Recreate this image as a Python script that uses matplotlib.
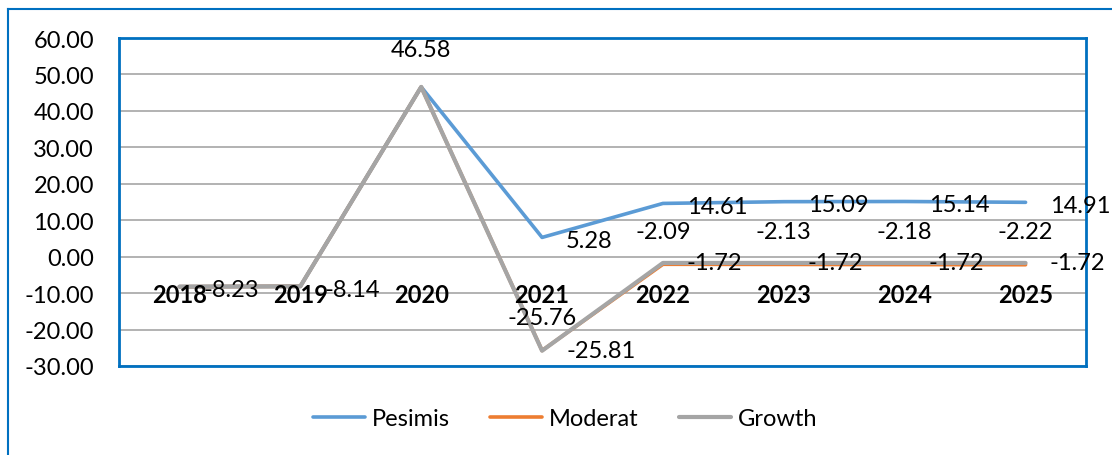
import matplotlib.pyplot as plt
from matplotlib.lines import Line2D
from matplotlib.transforms import offset_copy

plt.rcParams['font.family'] = ['Lato', 'DejaVu Sans']

years = ['2018', '2019', '2020', '2021', '2022', '2023', '2024', '2025']
pesimis = [-8.23, -8.14, 46.58, 5.28, 14.61, 15.09, 15.14, 14.91]
moderat = [-8.23, -8.14, 46.58, -25.76, -2.09, -2.13, -2.18, -2.22]
growth = [-8.23, -8.14, 46.58, -25.81, -1.72, -1.72, -1.72, -1.72]

blue = '#5B9BD5'
orange = '#ED7D31'
gray = '#A5A5A5'
frame = '#0070C0'
ft = 17

fig = plt.figure(figsize=(11.12, 4.56), dpi=100)
W, H = 1112, 456
ax = fig.add_axes([119 / W, 1 - 367 / H, (1086 - 119) / W, (367 - 39) / H])

x = list(range(len(years)))
ax.plot(x, pesimis, color=blue, lw=2.6, label='Pesimis', solid_capstyle='round', zorder=3)
ax.plot(x, moderat, color=orange, lw=2.6, label='Moderat', solid_capstyle='round', zorder=3)
ax.plot(x, growth, color=gray, lw=3.0, label='Growth', solid_capstyle='round', zorder=4)

ax.set_xlim(-0.5, len(years) - 0.5)
ax.set_ylim(-30, 60)
ax.set_yticks(range(-30, 61, 10))
ax.set_yticklabels(['%.2f' % v for v in range(-30, 61, 10)], fontsize=ft)
ax.tick_params(axis='y', length=0, pad=18)
ax.set_xticks([])
ax.grid(axis='y', color='#A6A6A6', lw=1.2, zorder=1)
for s in ax.spines.values():
    s.set_color(frame)
    s.set_linewidth(2)

# category labels next to the zero line
for i, yr in enumerate(years):
    t = offset_copy(ax.transData, fig=fig, x=0, y=-26, units='dots')
    ax.text(i, 0, yr, transform=t, ha='center', va='top', fontsize=ft, fontweight='bold', zorder=5)

# data labels
def lab(i, v, dx, dy, ha='left', va='center'):
    t = offset_copy(ax.transData, fig=fig, x=dx, y=dy, units='dots')
    ax.text(i, v, '%.2f' % v, transform=t, ha=ha, va=va, fontsize=ft, zorder=6)

for i, v in enumerate(pesimis):
    if i == 2:
        lab(i, v, 0, 37, ha='center')
    else:
        lab(i, v, 24, -3)
for i in range(3, len(years)):
    lab(i, moderat[i], 0, 33, ha='center')
for i in range(3, len(years)):
    lab(i, growth[i], 24, 0)

leg = fig.legend(loc='center', bbox_to_anchor=(565 / W, 1 - 420 / H), ncol=3, frameon=False,
                 fontsize=ft, handlelength=2.2, columnspacing=1.7, handletextpad=0.3)

# outer chart border (top and left only visible)
fig.add_artist(Line2D([8 / W, 1], [1 - 10 / H, 1 - 10 / H], color=frame, lw=1.5, transform=fig.transFigure))
fig.add_artist(Line2D([8 / W, 8 / W], [0, 1 - 10 / H], color=frame, lw=1.5, transform=fig.transFigure))

fig.savefig('out.png', dpi=100)
